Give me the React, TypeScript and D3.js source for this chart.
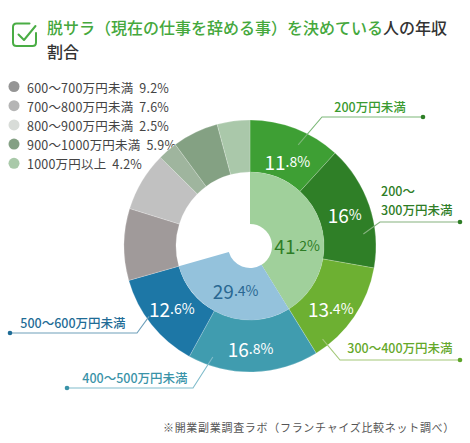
import React from "react";
import * as d3 from "d3";

// ---- data ----
const outerLabels = [
  "200万円未満",
  "200〜300万円未満",
  "300〜400万円未満",
  "400〜500万円未満",
  "500〜600万円未満",
  "600〜700万円未満",
  "700〜800万円未満",
  "800〜900万円未満",
  "900〜1000万円未満",
  "1000万円以上",
];
const outerValues = [11.8, 16, 13.4, 16.8, 12.6, 9.2, 7.6, 2.5, 5.9, 4.2];
const outerColors = [
  "#3e9f34", "#2f7f27", "#6db032", "#409caf", "#1d77a6",
  "#a09a9a", "#c1c1c1", "#9fb59e", "#84a183", "#aac8aa",
];
const innerLabels = ["400万円未満", "400〜600万円未満"];
const innerValues = [41.2, 29.4];
const innerColors = ["#a0d09b", "#94c2dc"];
const innerTextColors = ["#2e7d26", "#2a6892"];

const legendIndices = [5, 6, 7, 8, 9];
const legendColors = ["#959595", "#b5b5b5", "#d8dcd8", "#84a084", "#a9c9a9"];

const titleGreen = "脱サラ（現在の仕事を辞める事）を決めている";
const titleDark = "人の年収";
const titleLine2 = "割合";
const footnote = "※開業副業調査ラボ（フランチャイズ比較ネット調べ）";

// ---- layout ----
const W = 470;
const H = 443;
const cx = 250;
const cy = 246;
const rHole = 22;
const rMid = 74;
const rOuter = 126;
const FONT = "'Noto Sans CJK JP', 'Noto Sans', sans-serif";
// small nudges of the percentage labels from their arc centroids
const outerLabelShift = [[1, 8], [0, 0], [-2, 6], [-2, 2], [0, 0]];
const innerLabelShift = [[1, 12], [3, -1]];

const callouts = [
  { i: 0, t: 0.6, r: 112, elbow: [322, 117], endX: 423, textX: 370, textY: 112, lines: ["200万円未満"], anchor: "middle", text: "#3a9a30", line: "#7cb878", dot: "#2d7f26" },
  { i: 1, t: 0.72, r: 114, elbow: [380, 222], endX: 460, textX: 381, textY: 196, lines: ["200〜", "300万円未満"], anchor: "start", text: "#2e7d26", line: "#86b27f", dot: "#2e7d26" },
  { i: 2, t: 0.87, r: 118, elbow: [340, 360], endX: 460, textX: 400, textY: 353, lines: ["300〜400万円未満"], anchor: "middle", text: "#65a82a", line: "#a3c878", dot: "#5ea52a" },
  { i: 3, t: 0.83, r: 117, elbow: [193, 388], endX: 67, textX: 135, textY: 383, lines: ["400〜500万円未満"], anchor: "middle", text: "#3a93a8", line: "#80bccb", dot: "#3a93a8" },
  { i: 4, t: 0.58, r: 123, elbow: [137, 333], endX: 10, textX: 73, textY: 328, lines: ["500〜600万円未満"], anchor: "middle", text: "#1f6c96", line: "#6e9fba", dot: "#1f6c96" },
];

function PctText({ x, y, value, fill }: { x: number; y: number; value: number; fill: string }) {
  const s = String(value);
  const dot = s.indexOf(".");
  const big = dot >= 0 ? s.slice(0, dot) : s;
  const small = (dot >= 0 ? s.slice(dot) : "") + "%";
  return (
    <text x={x} y={y} textAnchor="middle" dominantBaseline="central" fill={fill} fontFamily={FONT}>
      <tspan fontSize={19}>{big}</tspan>
      <tspan fontSize={14}>{small}</tspan>
    </text>
  );
}

export default function App() {
  const pie = d3.pie<number>().sort(null).value((d) => d);
  const outerArcs = pie(outerValues);
  const innerTotal = d3.sum(innerValues);
  const innerArcs = pie([...innerValues, 100 - innerTotal]).slice(0, innerValues.length);

  const outerArc = d3.arc<d3.PieArcDatum<number>>().innerRadius(rMid).outerRadius(rOuter);
  const innerArc = d3.arc<d3.PieArcDatum<number>>().innerRadius(rHole).outerRadius(rMid);
  const outerLabelArc = d3.arc<d3.PieArcDatum<number>>().innerRadius(200).outerRadius(0);
  const innerLabelArc = d3.arc<d3.PieArcDatum<number>>().innerRadius(96).outerRadius(0);

  return (
    <div style={{ position: "absolute", left: 0, top: 0 }}>
      <svg width={W} height={H} viewBox={`0 0 ${W} ${H}`} style={{ display: "block", background: "#fff" }}>
        {/* title icon */}
        <g fill="none" stroke="#4aad45" strokeWidth={2} strokeLinecap="round" strokeLinejoin="round">
          <path d="M29.5 23.5 H16.5 Q13 23.5 13 27 V42.5 Q13 46 16.5 46 H32.5 Q36 46 36 42.5 V33" />
          <path d="M18.5 34.5 L24 40 L35.5 26" />
        </g>
        <text x={47} y={34} fontFamily={FONT} fontSize={16} fontWeight={500}>
          <tspan fill="#45a83d">{titleGreen}</tspan>
          <tspan fill="#333333">{titleDark}</tspan>
        </text>
        <text x={47} y={58} fontFamily={FONT} fontSize={16} fontWeight={500} fill="#333333">
          {titleLine2}
        </text>

        {/* legend */}
        {legendIndices.map((idx, k) => {
          const y = 86.5 + k * 19.2;
          return (
            <g key={idx}>
              <circle cx={14} cy={y} r={5.5} fill={legendColors[k]} />
              <text x={27} y={y} dominantBaseline="central" fontFamily={FONT} fontSize={12.5} fill="#444" letterSpacing={0.2}>
                <tspan>{outerLabels[idx]}</tspan>
                <tspan dx={6}>{outerValues[idx]}%</tspan>
              </text>
            </g>
          );
        })}

        <g transform={`translate(${cx},${cy})`}>
          {outerArcs.map((a, i) => (
            <path key={"o" + i} d={outerArc(a) || ""} fill={outerColors[i]} stroke="#ffffff" strokeOpacity={0.35} strokeWidth={0.6} />
          ))}
          {innerArcs.map((a, i) => (
            <path key={"in" + i} d={innerArc(a) || ""} fill={innerColors[i]} />
          ))}
          {outerArcs.slice(0, 5).map((a, i) => {
            const [x, y] = outerLabelArc.centroid(a);
            const [dx, dy] = outerLabelShift[i];
            return <PctText key={"ol" + i} x={x + dx} y={y + dy} value={outerValues[i]} fill="#ffffff" />;
          })}
          {innerArcs.map((a, i) => {
            const [x, y] = innerLabelArc.centroid(a);
            const [dx, dy] = innerLabelShift[i];
            return <PctText key={"il" + i} x={x + dx} y={y + dy} value={innerValues[i]} fill={innerTextColors[i]} />;
          })}
        </g>

        {/* callouts */}
        {callouts.map((c) => {
          const a = outerArcs[c.i];
          const ang = a.startAngle + (a.endAngle - a.startAngle) * c.t;
          const sx = cx + c.r * Math.sin(ang);
          const sy = cy - c.r * Math.cos(ang);
          const [ex, ey] = c.elbow;
          return (
            <g key={"c" + c.i}>
              <polyline points={`${sx},${sy} ${ex},${ey} ${c.endX},${ey}`} fill="none" stroke={c.line} strokeWidth={1.1} />
              <circle cx={c.endX} cy={ey} r={2.3} fill={c.dot} />
              <text x={c.textX} y={c.textY} textAnchor={c.anchor as any} fontFamily={FONT} fontSize={12.5} fontWeight={500} fill={c.text}>
                {c.lines.map((ln, k) => (
                  <tspan key={k} x={c.textX} dy={k === 0 ? 0 : 18.5}>
                    {ln}
                  </tspan>
                ))}
              </text>
            </g>
          );
        })}

        <text x={455} y={432} textAnchor="end" fontFamily={FONT} fontSize={11} fill="#555" letterSpacing={0.7}>
          {footnote}
        </text>
      </svg>
    </div>
  );
}
